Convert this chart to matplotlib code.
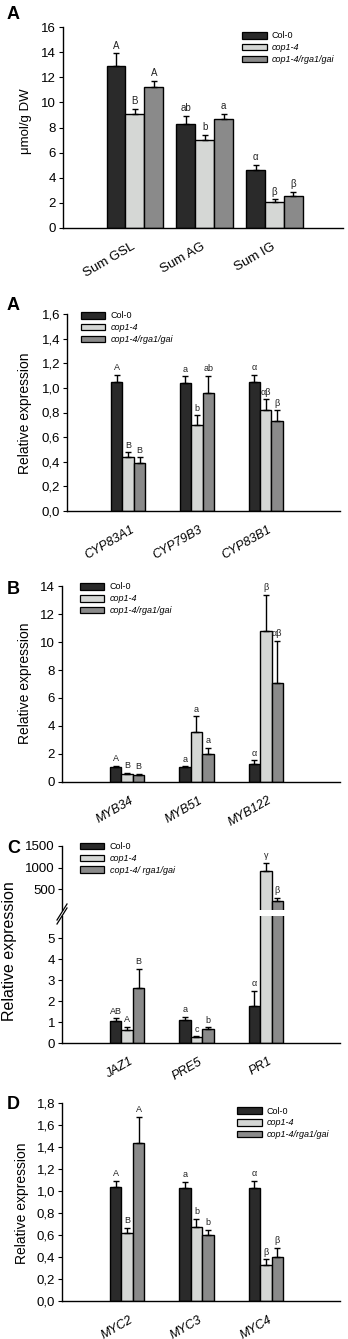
import matplotlib
matplotlib.use("Agg")
import matplotlib.pyplot as plt
import matplotlib.transforms as mt
from matplotlib.patches import Patch
from matplotlib.lines import Line2D
import numpy as np

plt.rcParams["font.family"] = ["Liberation Sans", "DejaVu Sans"]

W, H = 348, 1339
DPI = 100

genotypes = ["Col-0", "cop1-4", "cop1-4/rga1/gai"]
genotypes_c = ["Col-0", "cop1-4", "cop1-4/ rga1/gai"]
colors = ["#2a2a2a", "#d5d7d5", "#8a8a8a"]

# Panel 1: glucosinolates
cat1 = ["Sum GSL", "Sum AG", "Sum IG"]
val1 = [[12.9, 8.3, 4.65], [9.05, 7.0, 2.05], [11.25, 8.7, 2.55]]
err1 = [[1.0, 0.65, 0.35], [0.45, 0.4, 0.22], [0.45, 0.4, 0.3]]
let1 = [["A", "ab", "α"], ["B", "b", "β"], ["A", "a", "β"]]

# Panel 2: CYP
cat2 = ["CYP83A1", "CYP79B3", "CYP83B1"]
val2 = [[1.05, 1.04, 1.05], [0.435, 0.70, 0.82], [0.39, 0.955, 0.73]]
err2 = [[0.057, 0.053, 0.057], [0.041, 0.076, 0.087], [0.046, 0.14, 0.087]]
let2 = [["A", "a", "α"], ["B", "b", "αβ"], ["B", "ab", "β"]]

# Panel B: MYB
cat3 = ["MYB34", "MYB51", "MYB122"]
val3 = [[1.1, 1.05, 1.3], [0.6, 3.58, 10.8], [0.48, 2.02, 7.05]]
err3 = [[0.07, 0.07, 0.24], [0.07, 1.1, 2.55], [0.08, 0.42, 3.05]]
let3 = [["A", "a", "α"], ["B", "a", "β"], ["B", "a", "αβ"]]

# Panel C: JAZ1/PRE5/PR1 (broken axis)
cat4 = ["JAZ1", "PRE5", "PR1"]
val4 = [[1.07, 1.1, 1.78], [0.6, 0.27, 920.0], [2.62, 0.68, 220.0]]
err4 = [[0.1, 0.13, 0.69], [0.15, 0.05, 185.0], [0.9, 0.06, 70.0]]
let4 = [["AB", "a", "α"], ["A", "c", "γ"], ["B", "b", "β"]]

# Panel D: MYC
cat5 = ["MYC2", "MYC3", "MYC4"]
val5 = [[1.037, 1.028, 1.031], [0.617, 0.669, 0.328], [1.438, 0.596, 0.404]]
err5 = [[0.058, 0.054, 0.064], [0.05, 0.076, 0.05], [0.234, 0.052, 0.079]]
let5 = [["A", "a", "α"], ["B", "b", "β"], ["A", "b", "β"]]

fig = plt.figure(figsize=(W / DPI, H / DPI), dpi=DPI)
fig.patch.set_facecolor("white")


def add_ax(l, r, t, b):
    return fig.add_axes([l / W, 1 - b / H, (r - l) / W, (b - t) / H])


def style(ax, bottom=True):
    ax.spines["right"].set_visible(False)
    ax.spines["top"].set_visible(False)
    ax.spines["bottom"].set_visible(bottom)
    ax.spines["left"].set_linewidth(1.0)
    ax.spines["bottom"].set_linewidth(1.0)
    ax.tick_params(axis="y", direction="out", length=3, width=0.8, labelsize=9.5, pad=2)
    ax.tick_params(axis="x", length=0, pad=2)
    ax.set_facecolor("white")


def bars(ax, cats, vals, errs, lets, width, lfs=6.5, limit=None, min_val=None):
    x = np.arange(len(cats))
    for i in range(3):
        xs = x + (i - 1) * width
        v = np.array(vals[i], dtype=float)
        e = np.array(errs[i], dtype=float)
        keep = np.ones(len(cats), bool) if min_val is None else v > min_val
        ax.bar(xs[keep], v[keep], width=width, color=colors[i], edgecolor="black",
               linewidth=1.0, zorder=2)
        ax.errorbar(xs[keep], v[keep], yerr=[np.zeros(keep.sum()), e[keep]], fmt="none",
                    ecolor="black", elinewidth=1.0, capsize=2.5, capthick=1.0, zorder=3)
        for j in range(len(cats)):
            top = v[j] + e[j]
            if limit is not None and not (limit[0] <= top <= limit[1]):
                continue
            ax.annotate(lets[i][j], (xs[j], top), xytext=(0, 2),
                        textcoords="offset points", ha="center", va="bottom",
                        fontsize=lfs, color="#222222")
    return x


def xlabels(ax, x, cats, italic=True, dx=1.5, dy=-7, fs=9):
    ax.set_xticks(x)
    ax.set_xticklabels(cats, rotation=30, ha="right", rotation_mode="anchor",
                       fontstyle="italic" if italic else "normal", fontsize=fs)
    off = mt.ScaledTranslation(dx / 72, dy / 72, fig.dpi_scale_trans)
    for lab in ax.get_xticklabels():
        lab.set_transform(lab.get_transform() + off)


def legend(ax, bbox, labels=genotypes):
    handles = [Patch(facecolor=c, edgecolor="black", linewidth=0.9) for c in colors]
    leg = ax.legend(handles, labels, loc="upper left", bbox_to_anchor=bbox, frameon=False,
                    fontsize=6.5, handlelength=2.7, handleheight=0.75,
                    handletextpad=0.6, labelspacing=0.32, borderaxespad=0, borderpad=0)
    for t, s in zip(leg.get_texts(), ["normal", "italic", "italic"]):
        t.set_fontstyle(s)
    leg.set_zorder(5)


def comma(vals, fmt="{:.1f}"):
    return [fmt.format(v).replace(".", ",") for v in vals]


# ---- Panel 1
ax1 = add_ax(63, 343, 27, 228)
style(ax1)
x = bars(ax1, cat1, val1, err1, let1, 0.27, lfs=7)
ax1.set_xlim(-1.03, 2.98)
ax1.set_ylim(0, 16)
ax1.set_yticks(range(0, 17, 2))
xlabels(ax1, x, cat1, italic=False, dx=-2.5, dy=-7, fs=9.5)
legend(ax1, (0.64, 0.978))
fig.text(26 / W, 1 - 121 / H, "μmol/g DW", rotation=90, ha="center", va="center", fontsize=9.5)
fig.text(7 / W, 1 - 19 / H, "A", fontsize=13, fontweight="bold")

# ---- Panel 2
ax2 = add_ax(67, 340, 314, 511)
style(ax2)
x = bars(ax2, cat2, val2, err2, let2, 0.167, lfs=6.5)
ax2.set_xlim(-0.89, 3.08)
ax2.set_ylim(0, 1.6)
yt = np.arange(0, 1.61, 0.2)
ax2.set_yticks(yt)
ax2.set_yticklabels(comma(yt))
xlabels(ax2, x, cat2)
legend(ax2, (0.051, 1.013))
fig.text(25 / W, 1 - 413 / H, "Relative expression", rotation=90, ha="center", va="center", fontsize=10)
fig.text(7 / W, 1 - 310 / H, "A", fontsize=13, fontweight="bold")

# ---- Panel B
ax3 = add_ax(62, 340, 586, 782)
style(ax3)
x = bars(ax3, cat3, val3, err3, let3, 0.165, lfs=6.5)
ax3.set_xlim(-0.94, 3.07)
ax3.set_ylim(0, 14)
ax3.set_yticks(range(0, 15, 2))
xlabels(ax3, x, cat3)
legend(ax3, (0.065, 1.018))
fig.text(25 / W, 1 - 683 / H, "Relative expression", rotation=90, ha="center", va="center", fontsize=10)
fig.text(7 / W, 1 - 594 / H, "B", fontsize=13, fontweight="bold")

# ---- Panel C (broken axis)
ax4t = add_ax(62, 340, 846, 910)
ax4b = add_ax(62, 340, 916, 1043)
style(ax4t, bottom=False)
style(ax4b)
bars(ax4t, cat4, val4, err4, let4, 0.165, lfs=6.5, limit=(100, 1500), min_val=50)
x = bars(ax4b, cat4, val4, err4, let4, 0.165, lfs=6.5, limit=(0, 5.8))
for a in (ax4t, ax4b):
    a.set_xlim(-0.94, 3.07)
ax4t.set_ylim(12, 1500)
ax4t.set_yticks([500, 1000, 1500])
ax4t.set_xticks([])
ax4b.set_ylim(0, 6.05)
ax4b.set_yticks(range(0, 6))
xlabels(ax4b, x, cat4)
legend(ax4t, (0.065, 1.06), labels=genotypes_c)
# break marks on the y axis
for dy in (-2.0, 2.0):
    y0 = 914 + dy
    fig.add_artist(Line2D([(62 - 5) / W, (62 + 5) / W],
                          [1 - (y0 + 8) / H, 1 - (y0 - 8) / H],
                          color="black", linewidth=0.9))
fig.text(10 / W, 1 - 951 / H, "Relative expression", rotation=90, ha="center", va="center", fontsize=11.5)
fig.text(7 / W, 1 - 853 / H, "C", fontsize=13, fontweight="bold")

# ---- Panel D
ax5 = add_ax(62, 340, 1103, 1301)
style(ax5)
x = bars(ax5, cat5, val5, err5, let5, 0.165, lfs=6.5)
ax5.set_xlim(-0.94, 3.07)
ax5.set_ylim(0, 1.8)
yt = np.arange(0, 1.81, 0.2)
ax5.set_yticks(yt)
ax5.set_yticklabels(comma(yt))
xlabels(ax5, x, cat5)
legend(ax5, (0.63, 0.982))
fig.text(22 / W, 1 - 1203 / H, "Relative expression", rotation=90, ha="center", va="center", fontsize=10)
fig.text(7 / W, 1 - 1109 / H, "D", fontsize=13, fontweight="bold")

fig.savefig("out.png", dpi=DPI, facecolor="white")
